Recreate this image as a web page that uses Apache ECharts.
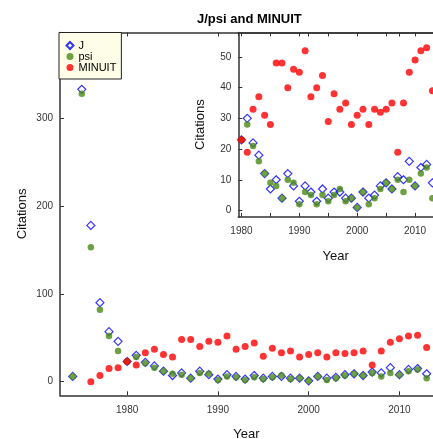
<!DOCTYPE html>
<html>
<head>
<meta charset="utf-8">
<script src="https://cdn.jsdelivr.net/npm/echarts@6/dist/echarts.min.js"></script>
<style>
html,body{margin:0;padding:0;background:#fff;}
#c{width:433px;height:439px;}
</style>
</head>
<body>
<div id="c"></div>
<script>
var years = [1974,1975,1976,1977,1978,1979,
  1980,1981,1982,1983,1984,1985,1986,1987,1988,1989,
  1990,1991,1992,1993,1994,1995,1996,1997,1998,1999,
  2000,2001,2002,2003,2004,2005,2006,2007,2008,2009,
  2010,2011,2012,2013];
var jValues = [6,333,178,90,57,46,
  23,30,22,18,12,7,10,4,12,8,
  3,8,6,3,7,4,6,6,4,4,
  1,6,4,5,8,9,7,11,10,16,
  8,14,15,9];
var psiValues = [6,328,153,82,52,35,
  23,28,21,16,12,9,8,4,10,9,
  2,6,5,2,5,3,5,7,3,4,
  1,6,2,4,7,9,7,10,6,10,
  8,12,14,4];
var minuitValues = [null,null,0,7,15,16,
  23,19,33,37,31,28,48,48,40,46,
  45,52,37,40,44,29,38,33,35,28,
  31,33,28,33,32,33,35,19,35,45,
  49,52,53,39];

function pairs(vals){
  var out = [];
  for (var i = 0; i < years.length; i++) {
    if (vals[i] !== null) out.push([years[i], vals[i]]);
  }
  return out;
}

var FONT = 'Liberation Sans, Arial, sans-serif';
var AX = '#333';
var BLUE = '#0000ff', GREEN = '#4a8a14', RED = '#ff0000';

function xAx(grid, min, max, step, pos, showLabels, every, name, gap, margin){
  return {
    type: 'value', gridIndex: grid, position: pos, min: min, max: max,
    splitNumber: Math.round((max-min)/step), minInterval: step, maxInterval: step,
    axisLine: {show: true, onZero: false, lineStyle: {color: AX, width: 1.5}},
    axisTick: {show: true, inside: true, length: 4, lineStyle: {color: AX}},
    axisLabel: {show: showLabels, color: AX, fontSize: 10, fontFamily: FONT, margin: margin,
      showMinLabel: false, showMaxLabel: false,
      formatter: function(v){ return (Math.abs(v % every) < 1e-6) ? String(v) : ''; }},
    splitLine: {show: false},
    name: name, nameLocation: 'middle', nameGap: gap, nameMoveOverlap: false,
    nameTextStyle: {color: '#111', fontSize: 13, fontFamily: FONT}
  };
}
function yAx(grid, min, max, step, name, gap){
  return {
    type: 'value', gridIndex: grid, min: min, max: max,
    splitNumber: Math.round((max-min)/step), minInterval: step, maxInterval: step,
    axisLine: {show: true, onZero: false, lineStyle: {color: AX, width: 1.5}},
    axisTick: {show: true, inside: true, length: 4, lineStyle: {color: AX}},
    axisLabel: {color: AX, fontSize: 10, fontFamily: FONT, margin: 7,
      showMinLabel: false, showMaxLabel: false,
      formatter: function(v){ return (Math.abs(v % step) < 1e-6) ? String(v) : ''; }},
    splitLine: {show: false},
    name: name, nameLocation: 'middle', nameGap: gap, nameRotate: 90, nameMoveOverlap: false,
    nameTextStyle: {color: '#111', fontSize: 13, fontFamily: FONT}
  };
}

function ser(name, vals, xi, yi, z){
  var s = {
    name: name, type: 'scatter', xAxisIndex: xi, yAxisIndex: yi, z: z,
    data: pairs(vals), silent: true, emphasis: {disabled: true}
  };
  if (name === 'J') {
    s.symbol = 'diamond'; s.symbolSize = 8;
    s.itemStyle = {color: 'rgba(255,255,255,0)', borderColor: BLUE, borderWidth: 1.2};
  } else if (name === 'psi') {
    s.symbol = 'circle'; s.symbolSize = 6.5;
    s.itemStyle = {color: GREEN};
  } else {
    s.symbol = 'circle'; s.symbolSize = 7;
    s.itemStyle = {color: RED};
  }
  return s;
}

var chart = echarts.init(document.getElementById('c'), null, {renderer: 'canvas'});
chart.setOption({
  animation: false,
  backgroundColor: '#fff',
  title: {
    text: 'J/psi and MINUIT', left: 197, top: 12.5, padding: 0,
    textStyle: {fontFamily: FONT, fontSize: 13, fontWeight: 'bold', color: '#000'}
  },
  legend: {
    data: ['J','psi','MINUIT'], orient: 'vertical', left: 59, top: 32.5,
    padding: [7.5, 5, 6, 6.5], itemGap: 0, itemWidth: 7, itemHeight: 7,
    backgroundColor: '#fdfde8', borderColor: '#222', borderWidth: 1,
    selectedMode: false,
    textStyle: {fontFamily: FONT, fontSize: 11, lineHeight: 11, color: '#000'}
  },
  grid: [
    {left: 60, top: 32.5, right: 0, bottom: 43.7, containLabel: false, outerBoundsMode: 'none'},
    {left: 238.3, top: 32.4, right: 0, bottom: 222.1, containLabel: false, outerBoundsMode: 'none'}
  ],
  xAxis: [
    xAx(0, 1972.6, 2013.7, 10, 'bottom', true, 10, 'Year', 33, 10),
    xAx(0, 1972.6, 2013.7, 10, 'top', false, 10, '', 0, 8),
    xAx(1, 1979.45, 2013.1, 5, 'bottom', true, 10, 'Year', 33, 9.5),
    xAx(1, 1979.45, 2013.1, 5, 'top', false, 10, '', 0, 8)
  ],
  yAxis: [
    yAx(0, -15.5, 397.7, 100, 'Citations', 31),
    yAx(1, -2.1, 58, 10, 'Citations', 31)
  ],
  series: [
    ser('J', jValues, 0, 0, 2),
    ser('psi', psiValues, 0, 0, 3),
    ser('MINUIT', minuitValues, 0, 0, 4),
    ser('J', jValues, 2, 1, 6),
    ser('psi', psiValues, 2, 1, 7),
    ser('MINUIT', minuitValues, 2, 1, 8)
  ]
});
</script>
</body>
</html>
